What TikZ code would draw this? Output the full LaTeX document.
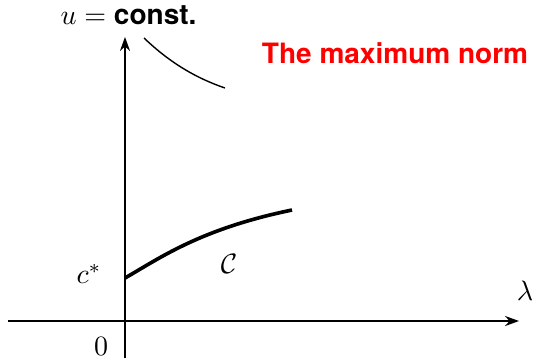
\documentclass[tikz,border=0pt]{standalone}
\usepackage{fontspec}
\setsansfont{TeX Gyre Heros}
\usetikzlibrary{arrows.meta}
\tikzset{
  axis/.style={line width=0.5pt,-{Stealth[length=5pt,width=3.6pt]}},
  thincurve/.style={line width=0.5pt},
  thickcurve/.style={line width=1.3pt},
  lbl/.style={inner sep=0pt,font=\fontsize{10}{12}\selectfont}
}
\begin{document}
\begin{tikzpicture}[x=0.357pt,y=-0.357pt]
\useasboundingbox (0,0) rectangle (534,358);
\coordinate (ybot) at (125,358);
\coordinate (ytop) at (125,37);
\coordinate (xl) at (8,321);
\coordinate (xr) at (519,321);
\draw[axis] (ybot) -- (ytop);
\draw[axis] (xl) -- (xr);
\node[lbl,anchor=base] (ulab) at (128.5,24) {$u=\textsf{\bfseries const.}$};
\node[lbl,anchor=base,text=red] (title) at (395,63) {\sffamily\bfseries The maximum norm};
\coordinate (a1) at (144,38);
\coordinate (a2) at (225,88);
\draw[thincurve] (a1) .. controls (165,58) and (190,76) .. (a2);
\coordinate (b1) at (125,278);
\coordinate (b2) at (292,210);
\draw[thickcurve] (b1) .. controls (160,258) and (200,229) .. (b2);
\node[lbl] (clab) at (229,264) {$\mathcal{C}$};
\node[lbl] (cstar) at (89,274) {$c^*$};
\node[lbl] (zero) at (101,346) {$0$};
\node[lbl] (lam) at (525,291) {$\lambda$};
\end{tikzpicture}
\end{document}
